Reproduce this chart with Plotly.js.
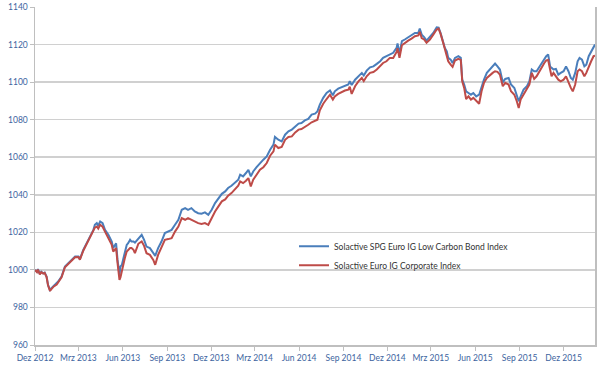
<!DOCTYPE html>
<html>
<head>
<meta charset="utf-8">
<script src="https://cdn.plot.ly/plotly-3.0.1.min.js"></script>
<style>html,body{margin:0;padding:0;background:#fff;}#chart{width:600px;height:367px;}</style>
</head>
<body>
<div id="chart"></div>
<script>
const dates = ["2012-12-01","2012-12-05","2012-12-07","2012-12-11","2012-12-14","2012-12-18","2012-12-21","2012-12-25","2012-12-28",
"2013-01-01","2013-01-04","2013-01-09","2013-01-15","2013-01-18","2013-01-25","2013-02-01","2013-02-08","2013-02-15","2013-02-22",
"2013-03-01","2013-03-04","2013-03-11","2013-03-18","2013-03-25","2013-04-01","2013-04-04","2013-04-08","2013-04-11","2013-04-15",
"2013-04-20","2013-04-25","2013-05-02","2013-05-09","2013-05-12","2013-05-18","2013-05-21","2013-05-25","2013-05-27","2013-05-30",
"2013-06-02","2013-06-05","2013-06-09","2013-06-12","2013-06-16","2013-06-19","2013-06-23","2013-06-26","2013-07-03","2013-07-10",
"2013-07-15","2013-07-20","2013-07-27","2013-08-03","2013-08-07","2013-08-13","2013-08-20","2013-08-27","2013-09-03","2013-09-10",
"2013-09-17","2013-09-24","2013-10-01","2013-10-08","2013-10-14","2013-10-21","2013-10-28","2013-11-04","2013-11-11","2013-11-18",
"2013-11-25","2013-12-02","2013-12-09","2013-12-16","2013-12-23","2013-12-30","2014-01-05","2014-01-12","2014-01-19","2014-01-26",
"2014-01-30","2014-02-05","2014-02-11","2014-02-16","2014-02-21","2014-02-26","2014-03-05","2014-03-12","2014-03-19","2014-03-26",
"2014-04-02","2014-04-09","2014-04-12","2014-04-19","2014-04-26","2014-05-03","2014-05-10","2014-05-17","2014-05-24","2014-05-31",
"2014-06-06","2014-06-13","2014-06-20","2014-06-27","2014-07-04","2014-07-09","2014-07-14","2014-07-21","2014-07-28","2014-08-04",
"2014-08-10","2014-08-14","2014-08-21","2014-08-28","2014-09-04","2014-09-11","2014-09-14","2014-09-18","2014-09-25","2014-10-02",
"2014-10-09","2014-10-13","2014-10-19","2014-10-26","2014-11-02","2014-11-09","2014-11-16","2014-11-22","2014-11-29","2014-12-06",
"2014-12-13","2014-12-20","2014-12-22","2014-12-26","2014-12-31","2015-01-06","2015-01-13","2015-01-20","2015-01-27","2015-02-03",
"2015-02-06","2015-02-10","2015-02-15","2015-02-20","2015-02-27","2015-03-06","2015-03-13","2015-03-17","2015-03-21","2015-03-27",
"2015-03-30","2015-04-03","2015-04-06","2015-04-11","2015-04-15","2015-04-20","2015-04-27","2015-05-02","2015-05-05","2015-05-09",
"2015-05-13","2015-05-18","2015-05-23","2015-05-28","2015-06-03","2015-06-09","2015-06-14","2015-06-19","2015-06-25","2015-07-02",
"2015-07-07","2015-07-12","2015-07-17","2015-07-22","2015-07-28","2015-08-02","2015-08-09","2015-08-14","2015-08-21","2015-08-26",
"2015-08-30","2015-09-03","2015-09-09","2015-09-16","2015-09-21","2015-09-26","2015-10-01","2015-10-06","2015-10-12","2015-10-17",
"2015-10-22","2015-10-26","2015-10-30","2015-11-03","2015-11-06","2015-11-10","2015-11-15","2015-11-20","2015-11-25","2015-12-01",
"2015-12-06","2015-12-11","2015-12-16","2015-12-20","2015-12-25","2015-12-30","2016-01-03","2016-01-08","2016-01-13","2016-01-17",
"2016-01-22","2016-01-27","2016-02-01","2016-02-04"];

const lowCarbon = [1000,999.0,1000.4,997.9,999.0,998.2,998.6,996.4,992.0,
989.3,990.2,991.5,992.5,993.8,996.4,1001.8,1003.6,1005.3,1007.1,
1007.1,1005.7,1010.7,1014.2,1017.8,1021.3,1024.0,1024.9,1023.5,1025.8,
1024.9,1021.3,1018.7,1015.1,1011.6,1014.2,1005.3,997.3,1001.8,1002.7,
1006.0,1008.9,1013.3,1014.2,1016.0,1015.1,1015.1,1014.5,1016.9,1018.7,
1016.0,1012.4,1011.6,1008.9,1007.5,1011.6,1015.1,1019.6,1020.4,1021.3,
1024.0,1026.7,1032.0,1032.9,1032.0,1032.9,1031.1,1030.2,1029.9,1030.6,
1029.3,1032.0,1035.6,1038.2,1040.5,1041.8,1043.6,1044.8,1046.2,1048.0,
1050.7,1049.8,1051.6,1053.3,1049.8,1052.4,1054.7,1056.9,1058.7,1060.4,
1064.0,1066.7,1070.8,1069.3,1068.4,1072.0,1073.8,1074.7,1076.4,1077.9,
1078.2,1079.6,1080.4,1082.7,1083.2,1084.4,1088.0,1091.6,1094.2,1095.5,
1093.0,1095.1,1096.5,1097.2,1097.8,1098.7,1100.5,1098.5,1101.3,1103.1,
1104.9,1103.5,1106.1,1107.9,1108.4,1109.7,1111.1,1112.9,1113.8,1115.1,
1115.6,1118.2,1120.6,1115.1,1121.8,1122.7,1123.9,1125.0,1126.2,1126.2,
1128.5,1125.3,1124.0,1122.1,1123.9,1126.2,1129.2,1129.0,1126.2,1121.0,
1118.2,1116.4,1112.9,1112.0,1110.2,1112.9,1113.8,1112.9,1101.3,1098.7,
1095.1,1094.2,1093.3,1094.2,1092.4,1093.3,1097.8,1101.3,1104.9,1107.1,
1108.1,1109.9,1108.4,1106.7,1099.9,1101.7,1102.2,1098.7,1096.9,1092.4,
1089.8,1092.4,1096.0,1097.8,1100.4,1106.7,1105.8,1105.8,1108.4,1110.2,
1112.0,1113.8,1114.7,1108.4,1107.6,1106.7,1107.0,1104.0,1104.9,1105.8,
1108.4,1105.8,1102.2,1101.3,1104.9,1111.1,1112.9,1112.0,1108.4,1109.3,
1113.8,1116.4,1119.1,1120.0];

const corporate = [1000,998.8,1000.2,997.6,998.8,998.0,998.4,996.2,991.8,
988.8,989.8,991.2,992.2,993.5,996.0,1001.4,1003.2,1005.0,1006.7,
1006.8,1005.4,1010.2,1013.6,1017.0,1020.2,1022.5,1023.1,1022.0,1024.0,
1023.0,1020.4,1016.9,1013.3,1009.8,1011.6,1003.6,994.7,996.0,1000.0,
1003.5,1006.2,1009.8,1010.7,1011.6,1011.6,1010.7,1008.9,1013.9,1015.1,
1012.8,1008.9,1008.0,1005.3,1002.7,1008.0,1011.6,1016.0,1016.4,1016.9,
1020.4,1023.1,1027.6,1026.7,1027.6,1026.7,1025.8,1024.9,1024.5,1024.9,
1024.0,1027.6,1031.1,1033.8,1036.5,1037.5,1039.5,1040.9,1042.7,1044.8,
1047.1,1046.2,1047.5,1048.9,1044.4,1048.0,1050.7,1053.3,1054.7,1056.9,
1060.8,1063.1,1066.7,1064.9,1065.5,1069.3,1070.8,1071.1,1073.2,1074.7,
1075.0,1076.4,1077.3,1078.6,1079.6,1080.0,1085.0,1088.5,1091.0,1093.3,
1090.7,1092.4,1093.7,1094.8,1095.5,1096.0,1097.5,1093.7,1097.8,1100.4,
1102.2,1100.5,1103.1,1104.9,1105.4,1106.7,1108.4,1110.2,1111.1,1112.9,
1112.9,1116.1,1118.0,1113.0,1119.6,1120.9,1122.1,1123.2,1124.4,1124.9,
1126.8,1123.5,1122.7,1121.0,1122.7,1125.3,1128.0,1128.5,1125.8,1120.5,
1117.5,1114.5,1111.1,1109.3,1108.1,1111.5,1112.4,1111.8,1100.4,1096.9,
1091.0,1092.4,1090.7,1091.6,1090.3,1088.5,1095.1,1099.6,1102.2,1104.0,
1104.9,1105.8,1105.5,1104.0,1097.8,1099.6,1098.7,1095.1,1093.3,1089.8,
1086.2,1090.7,1093.3,1096.0,1098.7,1104.9,1101.7,1103.1,1105.8,1108.4,
1110.2,1111.6,1111.8,1106.7,1103.1,1104.9,1103.1,1101.3,1100.4,1101.3,
1103.1,1099.6,1096.9,1095.1,1098.7,1105.8,1106.7,1105.8,1103.1,1104.9,
1108.4,1111.1,1113.8,1114.0];

const seriesNames = ["Solactive SPG Euro IG Low Carbon Bond Index", "Solactive Euro IG Corporate Index"];
const tickDates = ["2012-12-01","2013-03-01","2013-06-01","2013-09-01","2013-12-01","2014-03-01","2014-06-01","2014-09-01","2014-12-01","2015-03-01","2015-06-01","2015-09-01","2015-12-01"];
const tickLabels = ["Dez 2012","Mrz 2013","Jun 2013","Sep 2013","Dez 2013","Mrz 2014","Jun 2014","Sep 2014","Dez 2014","Mrz 2015","Jun 2015","Sep 2015","Dez 2015"];

const traces = [
  {x: dates, y: lowCarbon, name: seriesNames[0], type: "scatter", mode: "lines",
   line: {color: "#4a7ebb", width: 2}},
  {x: dates, y: corporate, name: seriesNames[1], type: "scatter", mode: "lines",
   line: {color: "#be4b48", width: 2}}
];

const tickFont = {family: "Lato, 'Liberation Sans', sans-serif", size: 8.5, color: "#3d64a0"};

const layout = {
  width: 600, height: 367,
  margin: {l: 35, r: 5, t: 7, b: 22, pad: 0},
  paper_bgcolor: "#ffffff", plot_bgcolor: "#ffffff",
  showlegend: true,
  legend: {x: 0.4625, y: 0.335, xanchor: "left", yanchor: "top", bgcolor: "rgba(0,0,0,0)",
           font: {family: "Lato, 'Liberation Sans', sans-serif", size: 8.5, color: "#333333"},
           itemwidth: 30, tracegroupgap: 0},
  xaxis: {type: "date", range: ["2012-12-01", "2016-02-04"], tickmode: "array",
          tickvals: tickDates, ticktext: tickLabels, ticks: "outside", ticklen: 4,
          tickcolor: "#bfbfbf", showgrid: false, showline: true, linecolor: "#bfbfbf",
          linewidth: 1.5, tickfont: tickFont, zeroline: false, fixedrange: true},
  yaxis: {range: [960, 1140], dtick: 20, tick0: 960, ticks: "outside", ticklen: 4,
          tickcolor: "#bfbfbf", showgrid: true, gridcolor: "#d0d0d0", gridwidth: 1.5,
          showline: true, linecolor: "#bfbfbf", linewidth: 1.5, mirror: true,
          tickfont: tickFont, zeroline: false, fixedrange: true}
};

Plotly.newPlot("chart", traces, layout, {staticPlot: true, displayModeBar: false});
</script>
</body>
</html>
